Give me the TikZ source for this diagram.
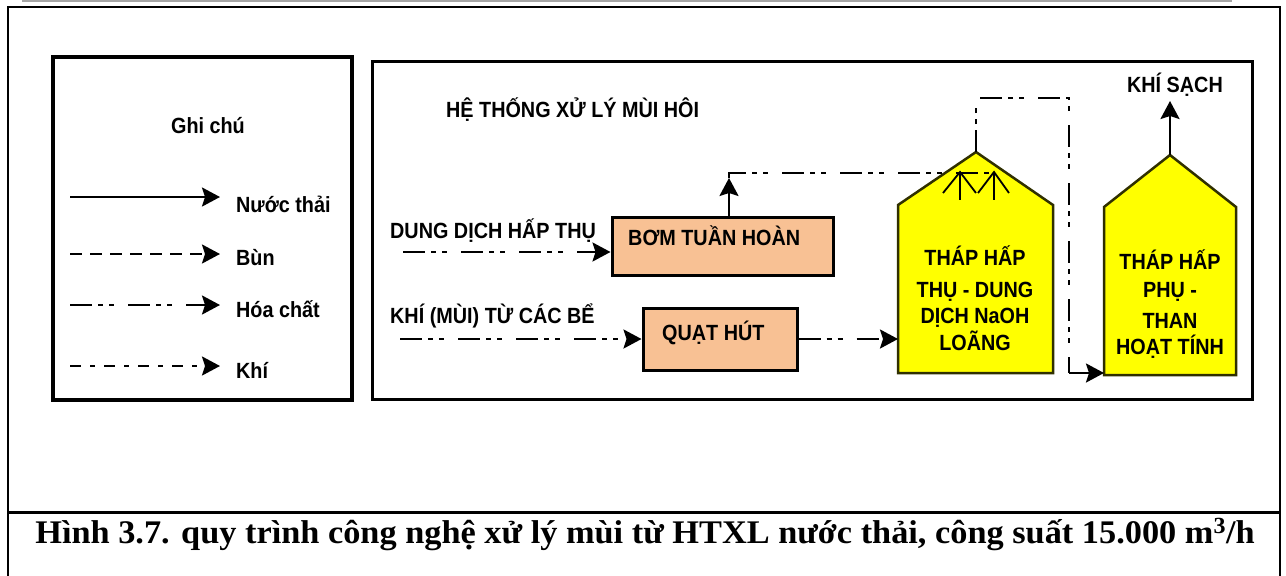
\documentclass[tikz,border=0pt]{standalone}
\usepackage{fontspec}
\setmainfont{Liberation Serif}
\newfontfamily\dfont[FakeStretch=0.9]{Liberation Sans}
\usetikzlibrary{arrows.meta}
\definecolor{boxfill}{RGB}{248,193,148}
\definecolor{towerline}{RGB}{48,48,0}
\definecolor{towerfill}{RGB}{255,255,0}
\definecolor{shadowgray}{RGB}{150,150,150}
\begin{document}
\begin{tikzpicture}[x=1pt,y=-1pt,
  lbl/.style={font=\dfont\bfseries\fontsize{22}{26}\selectfont, inner sep=0pt, anchor=base},
  lblw/.style={lbl, anchor=base west},
  tip/.style={-{Stealth[length=18pt,width=19pt,inset=3pt]}},
  flow/.style={line width=2.5pt},
  chem/.style={line width=2.5pt, dash pattern=on 22pt off 6pt on 5pt off 6pt on 5pt off 14pt},
  sludge/.style={line width=2.5pt, dash pattern=on 12pt off 8pt},
  gas/.style={line width=2.5pt, dash pattern=on 11pt off 9pt on 5pt off 9pt},
  frame/.style={draw, inner sep=0pt},
  unitbox/.style={draw, line width=3pt, fill=boxfill, inner sep=0pt},
  tower/.style={draw=towerline, line width=2.5pt, fill=towerfill, line join=miter},
  inarrow/.style={line width=1.8pt, line join=miter},
]
\useasboundingbox (0,0) rectangle (1286,576);

% page frame, rule above and caption separator
\draw[gray!70, line width=1.5pt] (22,1) -- (1232,1);
\draw[line width=2pt] (8,576) -- (8,7) -- (1280,7) -- (1280,576);
\draw[line width=3pt] (8,512) -- (1280,512);

% caption
\node[anchor=base, inner sep=0pt, font=\bfseries\fontsize{33}{38}\selectfont] (caption) at (645,543)
  {\scalebox{1.04}[1]{Hình 3.7. quy trình công nghệ xử lý mùi từ HTXL nước thải, công suất 15.000 m\textsuperscript{3}/h}};

% ---------- legend ----------
\node[frame, line width=4pt, minimum width=299, minimum height=343] (legend) at (202.5,228.5) {};
\node[lbl] (lgtitle) at (208,133) {Ghi chú};

\coordinate (l1s) at (70,197);  \coordinate (l1e) at (220,197);
\coordinate (l2s) at (70,254);  \coordinate (l2e) at (220,254);
\coordinate (l3s) at (70,305);  \coordinate (l3e) at (220,305);
\coordinate (l4s) at (70,366);  \coordinate (l4e) at (220,366);
\draw[flow,tip]   (l1s) -- (l1e);
\draw[sludge,tip] (l2s) -- (l2e);
\draw[chem,tip]   (l3s) -- (l3e);
\draw[gas,tip]    (l4s) -- (l4e);
\node[lblw] (lg1) at (236,212) {Nước thải};
\node[lblw] (lg2) at (236,265) {Bùn};
\node[lblw] (lg3) at (236,317) {Hóa chất};
\node[lblw] (lg4) at (236,378) {Khí};

% ---------- odour treatment system ----------
\node[frame, line width=3pt, minimum width=880, minimum height=338] (system) at (812,230) {};
\node[lblw] (systitle) at (446,117) {HỆ THỐNG XỬ LÝ MÙI HÔI};

% pump and fan
\node[unitbox, minimum width=221, minimum height=58] (pump) at (722.5,246) {};
\node[lblw] (pumptext) at (628,245) {BƠM TUẦN HOÀN};
\node[unitbox, minimum width=154, minimum height=62] (fan) at (720,339) {};
\node[lblw] (fantext) at (662,340) {QUẠT HÚT};

\node[lblw] (chemlbl) at (390,238) {DUNG DỊCH HẤP THỤ};
\node[lblw] (gaslbl) at (390,323) {KHÍ (MÙI) TỪ CÁC BỂ};
\coordinate (chemin) at (403,252);
\coordinate (gasin) at (400,339);

% absorption tower (NaOH)
\coordinate (t1sw) at (898,373);
\coordinate (t1nw) at (898,205);
\coordinate (t1apex) at (976,152);
\coordinate (t1ne) at (1053,205);
\coordinate (t1se) at (1053,373);
\begin{scope}[shift={(3,3)}]
  \fill[shadowgray] (t1sw) -- (t1nw) -- (t1apex) -- (t1ne) -- (t1se) -- cycle;
\end{scope}
\draw[tower] (t1sw) -- (t1nw) -- (t1apex) -- (t1ne) -- (t1se) -- cycle;
\node[lbl] (t1a) at (975,265) {THÁP HẤP};
\node[lbl] (t1b) at (975,297) {THỤ - DUNG};
\node[lbl] (t1c) at (975,323) {DỊCH NaOH};
\node[lbl] (t1d) at (975,350) {LOÃNG};

% spray arrows at the top of the tower
\draw[inarrow] (943,193) -- (960,172) -- (976,193);
\draw[inarrow] (960,172) -- (960,200);
\draw[inarrow] (978,193) -- (994,172) -- (1009,193);
\draw[inarrow] (994,172) -- (994,200);

% secondary tower (activated carbon)
\coordinate (t2sw) at (1104,375);
\coordinate (t2nw) at (1104,207);
\coordinate (t2apex) at (1170,155);
\coordinate (t2ne) at (1236,207);
\coordinate (t2se) at (1236,375);
\begin{scope}[shift={(3,3)}]
  \fill[shadowgray] (t2sw) -- (t2nw) -- (t2apex) -- (t2ne) -- (t2se) -- cycle;
\end{scope}
\draw[tower] (t2sw) -- (t2nw) -- (t2apex) -- (t2ne) -- (t2se) -- cycle;
\node[lbl] (t2a) at (1170,269) {THÁP HẤP};
\node[lbl] (t2b) at (1170,297) {PHỤ -};
\node[lbl] (t2c) at (1170,328) {THAN};
\node[lbl] (t2d) at (1170,354) {HOẠT TÍNH};

\node[lbl] (cleanlbl) at (1175,92) {KHÍ SẠCH};

% ---------- connectors ----------
\draw[chem,tip] (chemin) -- (chemin -| pump.west);
\draw[chem,tip] (gasin) -- (fan.west);
\draw[chem,tip] (fan.east) -- (fan.east -| t1sw);

% recirculation from the pump to the spray head
\coordinate (riseTop) at (729,173);
\coordinate (riseTip) at (729,178);
\coordinate (recEnd) at (994,173);
\draw[flow,tip] (riseTop |- pump.north) -- (riseTip);
\draw[chem] (riseTip) -- (riseTop) -- (recEnd);

% gas from the first tower to the second
\coordinate (exA) at (976,98);
\coordinate (exB) at (1069,98);
\coordinate (exC) at (1069,373);
\draw[chem] (t1apex) -- (exA) -- (exB) -- (exC);
\draw[flow,tip] (exC) -- (exC -| t2sw);

% clean gas out
\coordinate (cleanTip) at (1170,101);
\draw[flow,tip] (t2apex) -- (cleanTip);
\end{tikzpicture}
\end{document}
